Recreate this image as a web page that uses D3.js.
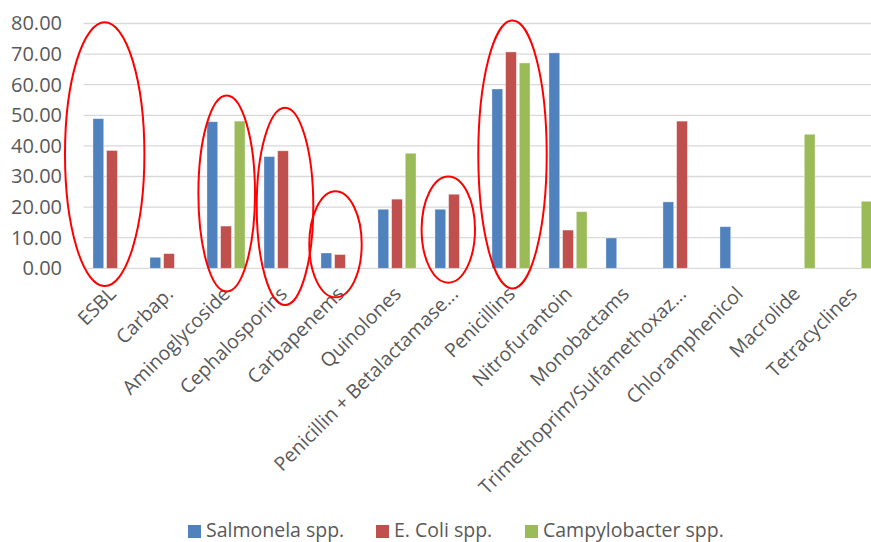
<!DOCTYPE html>
<html>
<head>
<meta charset="utf-8">
<script src="https://cdn.jsdelivr.net/npm/d3@7"></script>
<style>
  html, body { margin: 0; padding: 0; background: #fff; }
  svg { display: block; }
  text { font-family: "Open Sans", "DejaVu Sans", sans-serif; fill: #595959; }
</style>
</head>
<body>
<svg id="chart" width="871" height="542"></svg>
<script>
// Antibiotic classes along the horizontal axis
const categories = [
  "ESBL", "Carbap.", "Aminoglycoside", "Cephalosporins", "Carbapenems",
  "Quinolones", "Penicillin + Betalactamase...", "Penicillins", "Nitrofurantoin",
  "Monobactams", "Trimethoprim/Sulfamethoxaz...", "Chloramphenicol", "Macrolide", "Tetracyclines"
];

// Resistance (%) per organism; null = not tested
const salmonella    = [48.9, 3.6, 47.9, 36.5, 5.0, 19.3, 19.3, 58.6, 70.4, 9.9, 21.7, 13.6, null, null];
const ecoli         = [38.5, 4.8, 13.8, 38.4, 4.5, 22.6, 24.2, 70.7, 12.5, null, 48.1, null, null, null];
const campylobacter = [null, null, 48.1, null, null, 37.6, null, 67.1, 18.5, null, null, null, 43.8, 21.9];

const seriesNames = ["Salmonela spp.", "E. Coli spp.", "Campylobacter spp."];
const seriesColors = ["#4F81BD", "#C0504D", "#9BBB59"];

const yTicks = [0, 10, 20, 30, 40, 50, 60, 70, 80];

// Highlighted groups: category, top and bottom of the ring (in axis units)
const ringCategories = ["ESBL", "Aminoglycoside", "Cephalosporins", "Carbapenems", "Penicillin + Betalactamase...", "Penicillins"];
const ringTop        = [80.4, 56.5, 52.5, 25.2, 30.0, 81.0];
const ringBottom     = [-5.8, -7.6, -12.0, -9.5, -4.7, -6.6];

const svg = d3.select("#chart");

const plot = { left: 83.5, right: 881.5, top: 23.5, bottom: 268.3 };

const x = d3.scaleBand().domain(categories).range([plot.left, plot.right]);
const y = d3.scaleLinear().domain([0, 80]).range([plot.bottom, plot.top]);

const groupInner = d3.scaleBand()
  .domain(d3.range(seriesNames.length))
  .range([0, 38.1])
  .paddingInner(0.213);

// Gridlines
svg.append("g").selectAll("line").data(yTicks).join("line")
  .attr("x1", plot.left).attr("x2", plot.right)
  .attr("y1", d => y(d)).attr("y2", d => y(d))
  .attr("stroke", "#D9D9D9").attr("stroke-width", 1.3);

// Y axis labels
const yAxis = d3.axisLeft(y).tickValues(yTicks).tickFormat(d3.format(".2f")).tickSize(0).tickPadding(0);
const gy = svg.append("g").attr("transform", `translate(${62},0)`).call(yAxis);
gy.select(".domain").remove();
gy.selectAll("text").attr("font-size", 20).attr("fill", "#595959")
  .style("font-family", '"Open Sans", sans-serif');

// Bars
const allSeries = [salmonella, ecoli, campylobacter];
const groupOffset = (x.bandwidth() - 38.1) / 2;
const barData = [];
allSeries.forEach((vals, si) => {
  vals.forEach((v, ci) => {
    if (v !== null) barData.push({ cat: categories[ci], s: si, v });
  });
});
svg.append("g").selectAll("rect").data(barData).join("rect")
  .attr("x", d => x(d.cat) + groupOffset + groupInner(d.s))
  .attr("width", groupInner.bandwidth())
  .attr("y", d => y(d.v))
  .attr("height", d => y(0) - y(d.v))
  .attr("fill", d => seriesColors[d.s])
  .attr("stroke", "#ffffff").attr("stroke-opacity", 0.45).attr("stroke-width", 0.8);

// X axis labels, rotated
svg.append("g").selectAll("text").data(categories).join("text")
  .attr("transform", d => `translate(${x(d) + x.bandwidth() / 2 + 0.5},${plot.bottom + 22}) rotate(-45)`)
  .attr("text-anchor", "end")
  .attr("dy", "0.35em")
  .attr("font-size", 19.5)
  .text(d => d);

// Red rings around highlighted groups
const ringHalfWidth = { "ESBL": 39.7, "Aminoglycoside": 28.3, "Cephalosporins": 28.3, "Carbapenems": 26.2, "Penicillin + Betalactamase...": 26.7, "Penicillins": 34.2 };
const ringShift = { "ESBL": -7.3, "Aminoglycoside": 0.7, "Cephalosporins": 2, "Carbapenems": -4.5, "Penicillin + Betalactamase...": -5.7, "Penicillins": 1.5 };
svg.append("g").selectAll("ellipse").data(ringCategories).join("ellipse")
  .attr("cx", d => x(d) + x.bandwidth() / 2 + ringShift[d])
  .attr("cy", (d, i) => (y(ringTop[i]) + y(ringBottom[i])) / 2)
  .attr("rx", d => ringHalfWidth[d])
  .attr("ry", (d, i) => (y(ringBottom[i]) - y(ringTop[i])) / 2)
  .attr("fill", "none").attr("stroke", "#FF0000").attr("stroke-width", 2);

// Legend
const legendX = [188, 376, 525];
const legend = svg.append("g").selectAll("g").data(seriesNames).join("g")
  .attr("transform", (d, i) => `translate(${legendX[i]},524)`);
legend.append("rect").attr("width", 13).attr("height", 13).attr("y", 1).attr("fill", (d, i) => seriesColors[i]);
legend.append("text").attr("x", 18).attr("y", 12.5).attr("font-size", 19.5).text(d => d);
</script>
</body>
</html>
